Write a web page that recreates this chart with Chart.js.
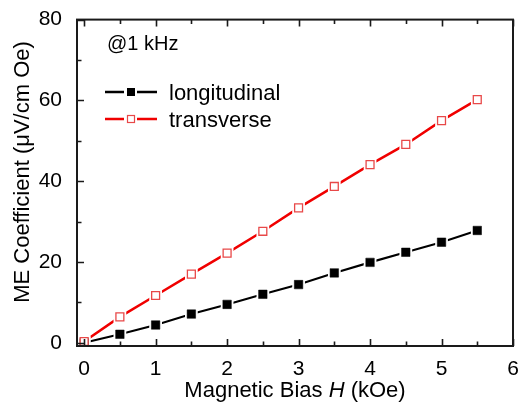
<!DOCTYPE html>
<html>
<head>
    <meta charset="utf-8">
    <title>ME coefficient vs bias</title>
    <script src="https://cdn.jsdelivr.net/npm/chart.js@4.4.1/dist/chart.umd.min.js"></script>
    <style>
        html, body { margin: 0; padding: 0; background: #fff; }
        #wrap { width: 522px; height: 407px; }
    </style>
</head>
<body>
<div id="wrap"><canvas id="myChart" width="522" height="407"></canvas></div>

<script>
    // bias field (kOe) and measured ME coefficient (uV/cm Oe)
    const biasH = [0, 0.5, 1, 1.5, 2, 2.5, 3, 3.5, 4, 4.5, 5, 5.5];
    const longitudinal = [0, 2.1, 4.4, 7.1, 9.5, 12.0, 14.4, 17.3, 19.9, 22.4, 24.9, 27.8];
    const transverse = [0.3, 6.4, 11.7, 17.0, 22.2, 27.6, 33.4, 38.7, 44.1, 49.1, 55.0, 60.2];
    const seriesNames = ['longitudinal', 'transverse'];
    const xTicks = [0, 0.5, 1, 1.5, 2, 2.5, 3, 3.5, 4, 4.5, 5, 5.5, 6];
    const yTicks = [0, 10, 20, 30, 40, 50, 60, 70, 80];

    const FONT = '"Liberation Sans", Arial, Helvetica, sans-serif';
    const RED = '#f00000';

    function pts(ys) {
        return biasH.map((h, i) => ({x: h, y: ys[i]}));
    }

    // frame, inward ticks, legend, note and axis titles
    const decorations = {
        id: 'decorations',
        afterDraw(chart) {
            const ctx = chart.ctx;
            const a = chart.chartArea;
            const x = chart.scales.x, y = chart.scales.y;
            ctx.save();

            ctx.strokeStyle = '#1a1a1a';
            ctx.lineWidth = 1.6;
            ctx.beginPath();
            xTicks.forEach(v => {
                const px = Math.round(x.getPixelForValue(v)) + 0.5;
                const len = Number.isInteger(v) ? 7 : 4.5;
                ctx.moveTo(px, a.bottom); ctx.lineTo(px, a.bottom - len);
                ctx.moveTo(px, a.top); ctx.lineTo(px, a.top + len);
            });
            yTicks.forEach(v => {
                const py = Math.round(y.getPixelForValue(v)) + 0.5;
                const len = v % 20 === 0 ? 7 : 4.5;
                ctx.moveTo(a.left, py); ctx.lineTo(a.left + len, py);
            });
            ctx.stroke();

            ctx.lineWidth = 2;
            ctx.strokeRect(a.left, a.top, a.right - a.left, a.bottom - a.top);

            // note
            ctx.fillStyle = '#000';
            ctx.textBaseline = 'middle';
            ctx.textAlign = 'left';
            ctx.font = '20px ' + FONT;
            ctx.fillText('@1 kHz', 107, 44);

            // legend
            const rows = [
                {name: seriesNames[0], color: '#000', fill: '#000', y: 92},
                {name: seriesNames[1], color: RED, fill: '#fff', y: 119}
            ];
            ctx.font = '22px ' + FONT;
            rows.forEach(r => {
                ctx.strokeStyle = r.color;
                ctx.lineWidth = 2.3;
                ctx.beginPath();
                ctx.moveTo(105, r.y); ctx.lineTo(124, r.y);
                ctx.moveTo(137, r.y); ctx.lineTo(157, r.y);
                ctx.stroke();
                ctx.fillStyle = r.fill;
                ctx.fillRect(127, r.y - 4, 8, 8);
                if (r.fill === '#fff') {
                    ctx.strokeStyle = '#e84848';
                    ctx.lineWidth = 1.2;
                    ctx.strokeRect(127.5, r.y - 3.5, 7, 7);
                }
                ctx.fillStyle = '#000';
                ctx.fillText(r.name, 169, r.y + 2);
            });

            // x title with italic H
            const parts = [['Magnetic Bias ', ''], ['H', 'italic '], [' (kOe)', '']];
            let total = 0;
            parts.forEach(p => { ctx.font = p[1] + '22px ' + FONT; total += ctx.measureText(p[0]).width; });
            let cx = (a.left + a.right) / 2 - total / 2;
            parts.forEach(p => {
                ctx.font = p[1] + '22px ' + FONT;
                ctx.fillText(p[0], cx, 391);
                cx += ctx.measureText(p[0]).width;
            });

            // y title
            ctx.translate(23, 172);
            ctx.rotate(-Math.PI / 2);
            ctx.textAlign = 'center';
            ctx.font = '22px ' + FONT;
            ctx.fillText('ME Coefficient (\u03bcV/cm Oe)', 0, 0);

            ctx.restore();
        }
    };

    const ctx = document.getElementById('myChart');
    new Chart(ctx, {
        type: 'line',
        data: {
            datasets: [
                // markers on top
                {
                    label: seriesNames[1], data: pts(transverse), showLine: false, order: 1,
                    pointStyle: 'rect', pointRadius: 5.6, pointBackgroundColor: '#fff',
                    pointBorderColor: '#e84848', pointBorderWidth: 1.3
                },
                {
                    label: seriesNames[0], data: pts(longitudinal), showLine: false, order: 2,
                    pointStyle: 'rect', pointRadius: 6, pointBackgroundColor: '#000',
                    pointBorderColor: '#000', pointBorderWidth: 0.5
                },
                // white gaps around markers
                {
                    label: 'gap', data: pts(transverse), showLine: false, order: 3,
                    pointStyle: 'rect', pointRadius: 9, pointBackgroundColor: '#fff',
                    pointBorderWidth: 0
                },
                {
                    label: 'gap', data: pts(longitudinal), showLine: false, order: 3,
                    pointStyle: 'rect', pointRadius: 9, pointBackgroundColor: '#fff',
                    pointBorderWidth: 0
                },
                // connecting lines
                {
                    label: seriesNames[1], data: pts(transverse), order: 4,
                    borderColor: RED, borderWidth: 2.5, pointRadius: 0, tension: 0
                },
                {
                    label: seriesNames[0], data: pts(longitudinal), order: 5,
                    borderColor: '#000', borderWidth: 2.1, pointRadius: 0, tension: 0
                }
            ]
        },
        options: {
            responsive: false,
            animation: false,
            events: [],
            layout: {padding: {left: 0, top: 19, right: 6, bottom: 0}},
            plugins: {legend: {display: false}, tooltip: {enabled: false}},
            scales: {
                x: {
                    type: 'linear', min: -0.1, max: 6,
                    afterBuildTicks: s => { s.ticks = xTicks.map(v => ({value: v})); },
                    afterFit: s => { s.height = 61; },
                    grid: {display: false},
                    border: {display: false},
                    ticks: {
                        autoSkip: false, maxRotation: 0, padding: 3, color: '#000',
                        font: {family: FONT, size: 21},
                        callback: v => Number.isInteger(v) ? v : ''
                    }
                },
                y: {
                    type: 'linear', min: -0.8, max: 80,
                    afterBuildTicks: s => { s.ticks = yTicks.map(v => ({value: v})); },
                    afterFit: s => { s.width = 77; },
                    grid: {display: false},
                    border: {display: false},
                    ticks: {
                        autoSkip: false, padding: 7, color: '#000',
                        font: {family: FONT, size: 21},
                        callback: v => v % 20 === 0 ? v : ''
                    }
                }
            }
        },
        plugins: [decorations]
    });
</script>
</body>
</html>
